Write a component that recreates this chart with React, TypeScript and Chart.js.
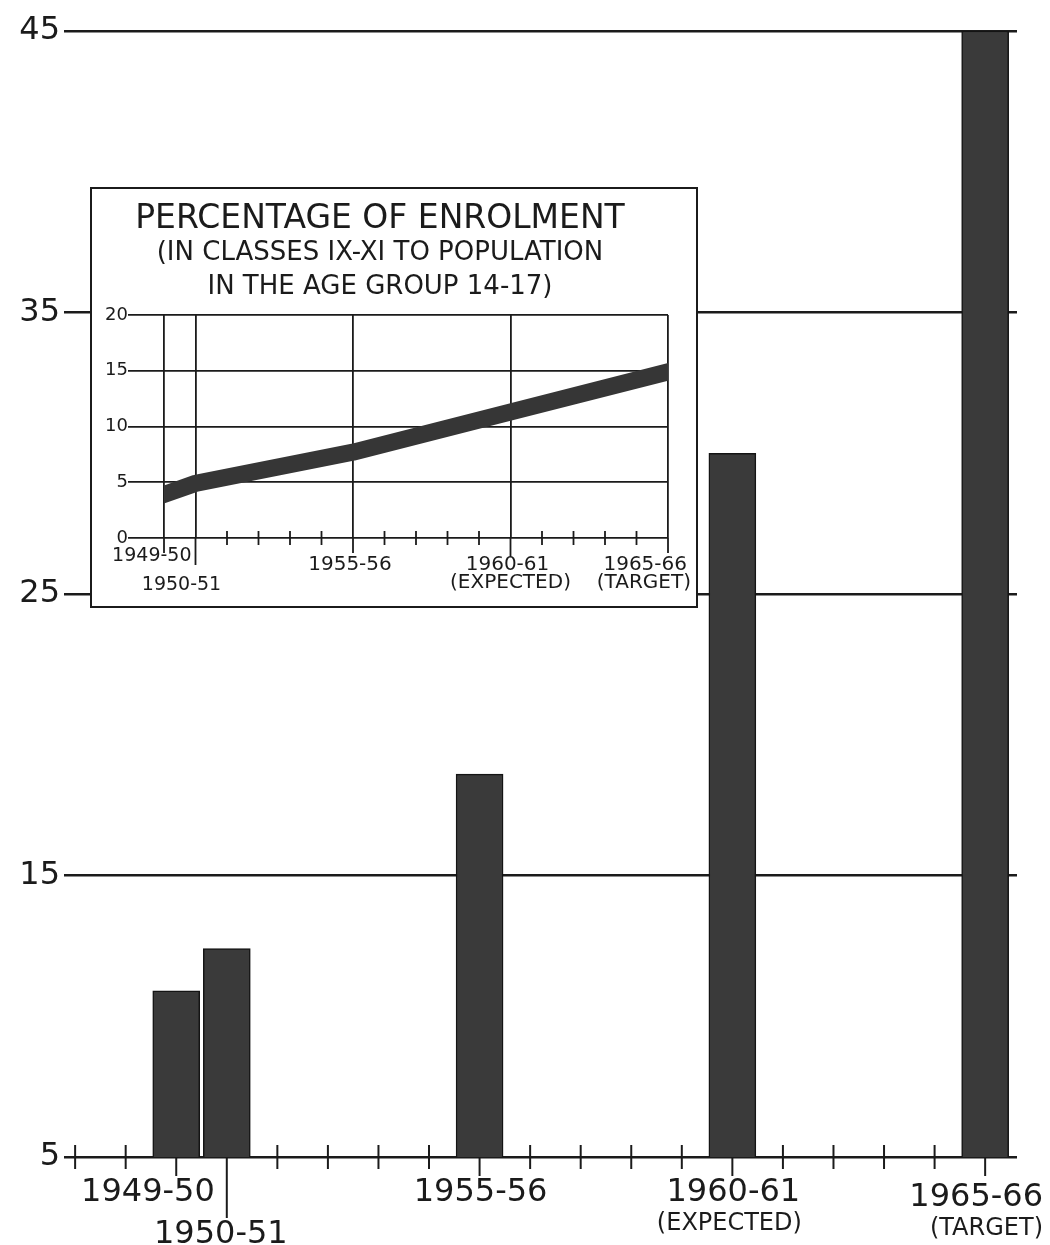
import React, { useEffect, useRef } from 'react';
import { Chart, registerables } from 'chart.js';

Chart.register(...registerables);

// ---- data ----
const periods = ['1949-50', '1950-51', '1955-56', '1960-61', '1965-66'];
const periodNotes = ['', '', '', '(EXPECTED)', '(TARGET)'];
const periodStartYears = [1949, 1950, 1955, 1960, 1965];
const enrolmentLakhs = [10.9, 12.4, 18.6, 30.0, 45.0];
const enrolmentPercent = [3.9, 4.9, 7.7, 11.3, 14.9];
const mainYTicks = [5, 15, 25, 35, 45];
const insetYTicks = [0, 5, 10, 15, 20];
const unitLabel = 'IN LAKHS';
const insetTitle = 'PERCENTAGE OF ENROLMENT';
const insetSubtitle = ['(IN CLASSES IX-XI TO POPULATION', 'IN THE AGE GROUP 14-17)'];

const INK = '#1b1b1b';
const FONT = "'DejaVu Sans', 'Liberation Sans', sans-serif";

function text(ctx: CanvasRenderingContext2D, s: string, x: number, y: number, size: number, align: CanvasTextAlign) {
  ctx.font = `${size}px ${FONT}`;
  ctx.textAlign = align;
  ctx.fillText(s, x, y);
}

const mainAxisPlugin = {
  id: 'mainAxis',
  afterDraw(chart: any) {
    const { ctx, scales } = chart;
    const x = scales.x;
    const y = scales.y;
    const axisY = y.getPixelForValue(mainYTicks[0]);
    ctx.save();
    ctx.strokeStyle = INK;
    ctx.lineWidth = 2;
    for (let yr = Math.ceil(x.min); yr <= Math.floor(x.max); yr++) {
      const px = x.getPixelForValue(yr);
      const idx = periodStartYears.indexOf(yr);
      ctx.beginPath();
      if (idx < 0) {
        ctx.moveTo(px, axisY - 12);
        ctx.lineTo(px, axisY + 12);
      } else {
        ctx.moveTo(px, axisY);
        ctx.lineTo(px, axisY + (idx === 1 ? 61 : 19));
      }
      ctx.stroke();
    }
    ctx.fillStyle = INK;
    ctx.textBaseline = 'middle';
    const W = chart.width;
    periods.forEach((p, i) => {
      const px = x.getPixelForValue(periodStartYears[i]);
      if (i === 0) {
        const next = x.getPixelForValue(periodStartYears[1]);
        text(ctx, p, next - 12, axisY + 36, 32, 'right');
      } else if (i === 1) {
        text(ctx, p, px - 6, axisY + 78, 32, 'center');
      } else if (i === periods.length - 1) {
        text(ctx, p, W - 7, axisY + 41, 32, 'right');
        text(ctx, periodNotes[i], W - 7, axisY + 72, 24, 'right');
      } else {
        text(ctx, p, px + 1, axisY + 36, 32, 'center');
        if (periodNotes[i]) text(ctx, periodNotes[i], px - 3, axisY + 67, 24, 'center');
      }
    });
    // unit label, almost entirely cut off at the top edge
    ctx.textBaseline = 'alphabetic';
    text(ctx, unitLabel, 7, 0, 26, 'left');
    ctx.restore();
  },
};

const insetAxisPlugin = {
  id: 'insetAxis',
  afterDraw(chart: any) {
    const { ctx, scales } = chart;
    const x = scales.x;
    const y = scales.y;
    const axisY = y.getPixelForValue(insetYTicks[0]);
    ctx.save();
    ctx.strokeStyle = INK;
    ctx.lineWidth = 1.8;
    for (let yr = Math.ceil(x.min); yr <= Math.floor(x.max); yr++) {
      const px = x.getPixelForValue(yr);
      const idx = periodStartYears.indexOf(yr);
      ctx.beginPath();
      if (idx < 0) {
        ctx.moveTo(px, axisY - 7);
        ctx.lineTo(px, axisY + 7);
      } else {
        const ext = idx === 1 ? 27 : idx === 3 ? 19 : 15;
        ctx.moveTo(px, axisY);
        ctx.lineTo(px, axisY + ext);
      }
      ctx.stroke();
    }
    ctx.fillStyle = INK;
    ctx.textBaseline = 'middle';
    const W = chart.width;
    periods.forEach((p, i) => {
      const px = x.getPixelForValue(periodStartYears[i]);
      if (i === 0) {
        const next = x.getPixelForValue(periodStartYears[1]);
        text(ctx, p, next - 4, axisY + 18, 19, 'right');
      } else if (i === 1) {
        text(ctx, p, px - 14, axisY + 47, 19, 'center');
      } else if (i === periods.length - 1) {
        text(ctx, p, W - 9, axisY + 27, 20, 'right');
        text(ctx, periodNotes[i], W - 5, axisY + 45, 20, 'right');
      } else {
        text(ctx, p, px - 3, axisY + 27, 20, 'center');
        if (periodNotes[i]) text(ctx, periodNotes[i], px, axisY + 45, 20, 'center');
      }
    });
    ctx.restore();
  },
};

export default function App() {
  const mainRef = useRef<HTMLCanvasElement>(null);
  const insetRef = useRef<HTMLCanvasElement>(null);

  useEffect(() => {
    if (!mainRef.current || !insetRef.current) return;

    const main = new Chart(mainRef.current, {
      type: 'bar',
      data: {
        datasets: [
          {
            data: periodStartYears.map((yr, i) => ({ x: yr, y: enrolmentLakhs[i] })),
            backgroundColor: '#3a3a3a',
            borderColor: '#141414',
            borderWidth: 1.5,
            borderSkipped: 'start',
            barThickness: 47,
          },
        ],
      },
      options: {
        animation: false,
        responsive: false,
        layout: { padding: { top: 31, right: 33, left: 0, bottom: 0 } },
        plugins: { legend: { display: false }, tooltip: { enabled: false } },
        scales: {
          x: {
            type: 'linear',
            min: 1946.78,
            max: 1965.63,
            offset: false,
            ticks: { display: false },
            grid: { display: false },
            border: { display: false },
            afterFit: (s: any) => {
              s.height = 88;
            },
          },
          y: {
            type: 'linear',
            min: 5,
            max: 45,
            beginAtZero: false,
            afterBuildTicks: (s: any) => {
              s.ticks = mainYTicks.map((value) => ({ value }));
            },
            ticks: { font: { family: FONT, size: 32 }, color: INK, padding: 4 },
            grid: { color: INK, lineWidth: 2.5, drawTicks: false },
            border: { display: false },
            afterFit: (s: any) => {
              s.width = 64;
            },
          },
        },
      } as any,
      plugins: [mainAxisPlugin],
    });

    const inset = new Chart(insetRef.current, {
      type: 'line',
      data: {
        datasets: [
          {
            data: periodStartYears.map((yr, i) => ({ x: yr, y: enrolmentPercent[i] })),
            borderColor: '#363636',
            borderWidth: 17,
            borderCapStyle: 'square',
            borderJoinStyle: 'round',
            pointRadius: 0,
            tension: 0,
            fill: false,
          },
        ],
      },
      options: {
        animation: false,
        responsive: false,
        layout: { padding: { top: 0, right: 28, left: 0, bottom: 0 } },
        plugins: {
          legend: { display: false },
          tooltip: { enabled: false },
          title: {
            display: true,
            text: insetTitle,
            color: INK,
            font: { family: FONT, size: 33, weight: 'normal', lineHeight: 1.0 },
            padding: { top: 14, bottom: 0 },
          },
          subtitle: {
            display: true,
            text: insetSubtitle,
            color: INK,
            font: { family: FONT, size: 26, weight: 'normal', lineHeight: 1.308 },
            padding: { top: 0, bottom: 11 },
          },
        },
        scales: {
          x: {
            type: 'linear',
            min: periodStartYears[0],
            max: periodStartYears[periodStartYears.length - 1],
            afterBuildTicks: (s: any) => {
              s.ticks = periodStartYears.map((value) => ({ value }));
            },
            ticks: { display: false },
            grid: { color: INK, lineWidth: 1.8, drawTicks: false },
            border: { display: false },
            afterFit: (s: any) => {
              s.height = 68;
            },
          },
          y: {
            type: 'linear',
            min: 0,
            max: 20,
            afterBuildTicks: (s: any) => {
              s.ticks = insetYTicks.map((value) => ({ value }));
            },
            ticks: { font: { family: FONT, size: 18 }, color: INK, padding: 0 },
            grid: { color: INK, lineWidth: 1.8, drawTicks: true, tickLength: 36 },
            border: { display: false },
            afterFit: (s: any) => {
              s.width = 72;
            },
          },
        },
      } as any,
      plugins: [insetAxisPlugin],
    });

    return () => {
      main.destroy();
      inset.destroy();
    };
  }, []);

  return (
    <div
      style={{
        position: 'absolute',
        left: 0,
        top: 0,
        width: 1050,
        height: 1245,
        background: '#fff',
        overflow: 'hidden',
      }}
    >
      <canvas ref={mainRef} width={1050} height={1245} style={{ position: 'absolute', left: 0, top: 0 }} />
      <div
        style={{
          position: 'absolute',
          left: 90,
          top: 187,
          width: 608,
          height: 421,
          boxSizing: 'border-box',
          border: `2px solid ${INK}`,
          background: '#fff',
        }}
      >
        <canvas ref={insetRef} width={604} height={417} style={{ display: 'block' }} />
      </div>
    </div>
  );
}
